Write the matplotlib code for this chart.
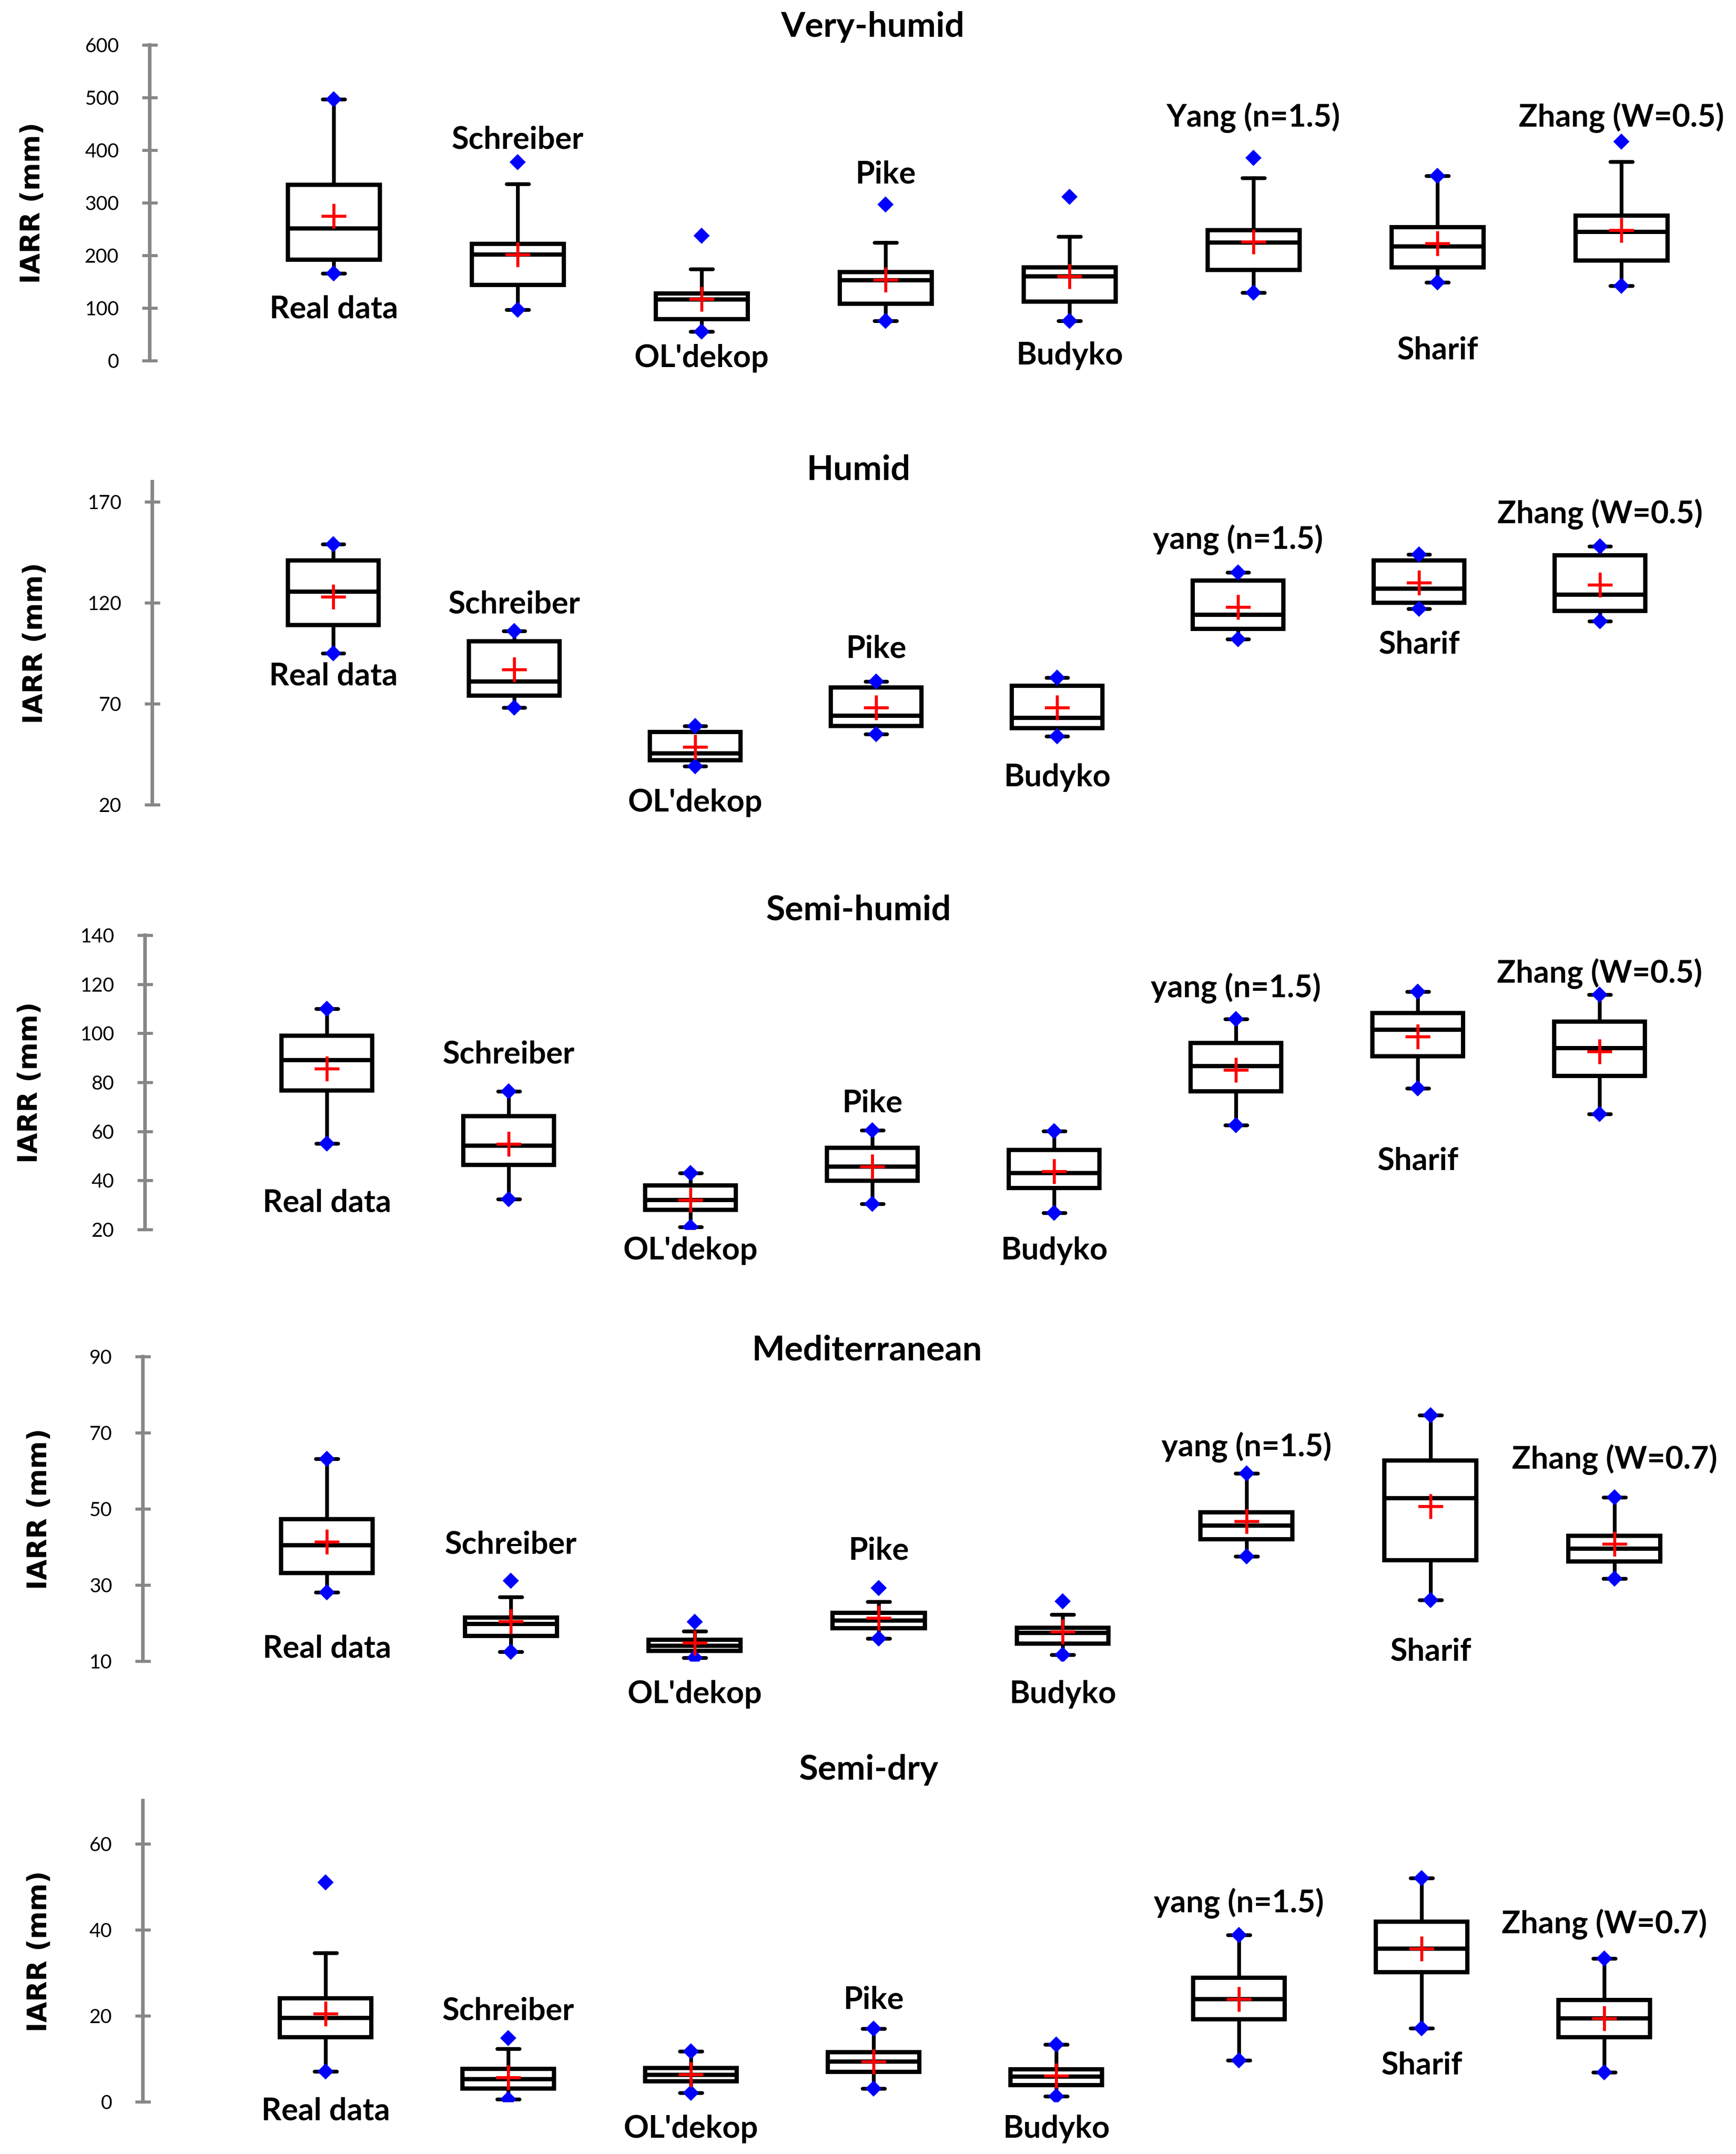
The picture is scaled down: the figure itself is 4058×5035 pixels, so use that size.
import matplotlib
matplotlib.use('Agg')
import matplotlib.pyplot as plt
from matplotlib.transforms import blended_transform_factory

plt.rcParams['font.family'] = ['Lato', 'DejaVu Sans']

titles = ['Very-humid', 'Humid', 'Semi-humid', 'Mediterranean', 'Semi-dry']
names_vh = ['Real data', 'Schreiber', "OL'dekop", 'Pike', 'Budyko', 'Yang (n=1.5)', 'Sharif', 'Zhang (W=0.5)']
names_h = ['Real data', 'Schreiber', "OL'dekop", 'Pike', 'Budyko', 'yang (n=1.5)', 'Sharif', 'Zhang (W=0.5)']
names_dry = ['Real data', 'Schreiber', "OL'dekop", 'Pike', 'Budyko', 'yang (n=1.5)', 'Sharif', 'Zhang (W=0.7)']

# Very-humid
vh_lo = [166, 97, 55, 76, 76, 129, 149, 142]
vh_q1 = [192, 144, 79, 108, 112, 172, 177, 190]
vh_med = [251, 202, 116, 153, 160, 224, 217, 245]
vh_q3 = [334, 222, 128, 168, 177, 248, 254, 276]
vh_whi = [497, 336, 174, 224, 236, 347, 351, 378]
vh_max = [497, 377, 237, 297, 311, 385, 351, 416]
vh_mean = [275, 202, 117, 154, 160, 226, 223, 248]

# Humid
h_lo = [95, 68, 39, 55, 54, 102, 117, 111]
h_q1 = [109, 74, 42, 59, 58, 107, 120, 116]
h_med = [125.5, 81, 45.5, 64, 63, 114, 127, 124]
h_q3 = [141, 101, 56, 78, 79, 131, 141, 143.5]
h_whi = [149, 106, 59, 81, 83, 135, 144, 148]
h_max = [149, 106, 59, 81, 83, 135, 144, 148]
h_mean = [123, 87, 48.7, 68, 68, 118, 130, 129]

# Semi-humid
sh_lo = [55, 32.4, 21.1, 30.5, 26.8, 62.6, 77.6, 67.1]
sh_q1 = [76.7, 46.3, 28.1, 39.8, 37, 76.4, 90.6, 82.6]
sh_med = [89, 54.2, 32.1, 45.6, 43.1, 86.6, 101.4, 93.9]
sh_q3 = [99, 66.2, 38, 53.4, 52.4, 96.1, 108.3, 104.7]
sh_whi = [110, 76.4, 43.1, 60.4, 60.2, 105.8, 117, 115.7]
sh_max = [110, 76.4, 43.1, 60.4, 60.2, 105.8, 117, 115.7]
sh_mean = [85.5, 54.8, 32.1, 45.6, 43.7, 85.1, 98.6, 92.6]

# Mediterranean
md_lo = [28.1, 12.5, 10.9, 15.9, 11.7, 37.5, 26.1, 31.7]
md_q1 = [33.1, 16.6, 12.7, 18.6, 14.6, 42.0, 36.5, 36.2]
md_med = [40.5, 19.8, 14.1, 20.7, 17.4, 45.6, 52.8, 39.5]
md_q3 = [47.3, 21.5, 15.6, 22.7, 18.8, 49.1, 62.7, 42.9]
md_whi = [63.1, 26.8, 17.9, 25.6, 22.3, 59.3, 74.6, 53.0]
md_max = [63.1, 31.1, 20.3, 29.2, 25.7, 59.3, 74.6, 53.0]
md_mean = [41.3, 20.4, 14.8, 21.4, 17.8, 46.7, 50.7, 40.8]

# Semi-dry
sd_lo = [7.1, 0.6, 2.1, 3.1, 1.3, 9.6, 17.1, 6.9]
sd_q1 = [15.0, 3.1, 4.8, 7.0, 3.9, 19.2, 30.1, 15.0]
sd_med = [19.5, 5.3, 6.3, 9.3, 5.9, 23.9, 35.6, 19.4]
sd_q3 = [24.1, 7.7, 7.9, 11.5, 7.6, 28.8, 41.9, 23.7]
sd_whi = [34.6, 12.3, 11.7, 17.0, 13.3, 38.8, 52.0, 33.3]
sd_max = [51.0, 14.8, 11.7, 17.0, 13.3, 38.8, 52.0, 33.3]
sd_mean = [20.5, 5.7, 6.4, 9.3, 6.1, 23.9, 35.6, 19.4]

yticks_all = [list(range(0, 601, 100)), [20, 70, 120, 170], list(range(20, 141, 20)),
              [10, 30, 50, 70, 90], [0, 20, 40, 60]]

# layout (pixels of the 4058 x 5035 canvas)
W, H = 4058, 5035
ylims = [(0, 600), (20, 180), (20, 140), (10, 90), (0, 70)]
ax_left = [350, 356, 339, 334, 334]
ax_top = [105, 1126, 2186, 3171, 4209]
ax_bottom = [843, 1881, 2874, 3883, 4913]
step_px = [430, 423, 425, 430, 427]
title_base = [86, 1122, 2150, 3179, 4160]
title_x = [2040, 2007, 2007, 2027, 2030]
ylabel_x = [76, 82, 70, 92, 92]
label_y = [
    [81, 403, -12, 337, -7, 445, 3, 445],
    [79.3, 114.8, 16.6, 92.7, 29.2, 146.8, 94.9, 159.4],
    [27.2, 87.7, 7.8, 67.9, 7.8, 114.7, 44.4, 120.6],
    [10.9, 38.3, -1.0, 36.7, -1.0, 63.8, 10.2, 60.6],
    [-4.2, 19.0, -8.4, 21.6, -8.4, 44.0, 6.4, 39.2],
]

panels = [
    (names_vh, vh_lo, vh_q1, vh_med, vh_q3, vh_whi, vh_max, vh_mean),
    (names_h, h_lo, h_q1, h_med, h_q3, h_whi, h_max, h_mean),
    (names_h, sh_lo, sh_q1, sh_med, sh_q3, sh_whi, sh_max, sh_mean),
    (names_dry, md_lo, md_q1, md_med, md_q3, md_whi, md_max, md_mean),
    (names_dry, sd_lo, sd_q1, sd_med, sd_q3, sd_whi, sd_max, sd_mean),
]

axis_grey = '#878787'
fig = plt.figure(figsize=(W / 300, H / 300), dpi=300)

for k, (names, lo, q1, med, q3, whi, top, mean) in enumerate(panels):
    left, t, b = ax_left[k], ax_top[k], ax_bottom[k]
    ax = fig.add_axes([left / W, 1 - b / H, (W - left) / W, (b - t) / H])

    stats = []
    for i in range(len(names)):
        stats.append(dict(whislo=lo[i], q1=q1[i], med=med[i], q3=q3[i], whishi=whi[i],
                          mean=mean[i], fliers=[lo[i], top[i]]))
    pos = list(range(1, len(names) + 1))
    ax.bxp(stats, positions=pos, widths=0.5, capwidths=0.12, showmeans=True,
           boxprops=dict(color='black', linewidth=2.4, solid_joinstyle='miter'),
           medianprops=dict(color='black', linewidth=2.4),
           whiskerprops=dict(color='black', linewidth=2.1),
           capprops=dict(color='black', linewidth=2.1, solid_capstyle='round'),
           flierprops=dict(marker='D', markersize=5.6, markerfacecolor='#0000ff',
                           markeredgecolor='#0000ff', linestyle='none', zorder=4),
           meanprops=dict(marker='+', markersize=14, markeredgecolor='#ff0000',
                          markeredgewidth=1.7, zorder=5))

    for i, name in enumerate(names):
        ax.text(pos[i], label_y[k][i], name, ha='center', va='baseline',
                fontsize=17.5, fontweight='bold', clip_on=False)

    ax.set_xlim(0, (W - left) / step_px[k])
    ax.set_ylim(*ylims[k])
    ax.set_xticks([])
    ax.set_yticks(yticks_all[k])
    for side in ['top', 'right', 'bottom']:
        ax.spines[side].set_visible(False)
    ax.spines['left'].set_color(axis_grey)
    ax.spines['left'].set_linewidth(2)
    ax.tick_params(axis='y', direction='inout', length=8.6, width=1.7, color=axis_grey,
                   labelsize=11, pad=13)
    ax.patch.set_visible(False)

    ax.set_ylabel('IARR (mm)', family='DejaVu Sans', fontweight='bold', fontsize=15)
    ax.yaxis.label.set_va('center')
    ax.yaxis.set_label_coords(ylabel_x[k] / W, 0.5,
                              transform=blended_transform_factory(fig.transFigure, ax.transAxes))

    fig.text(title_x[k] / W, 1 - title_base[k] / H, titles[k], ha='center', va='baseline',
             fontsize=19.5, fontweight='bold')

fig.savefig('out.png', dpi=300)
